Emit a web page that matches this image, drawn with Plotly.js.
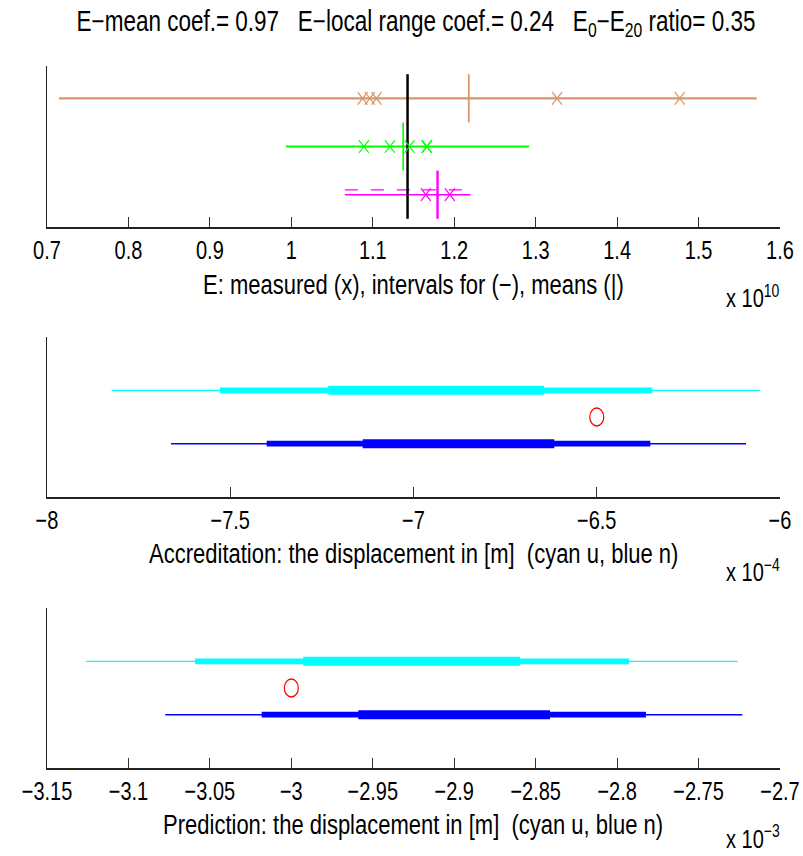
<!DOCTYPE html>
<html>
<head>
<meta charset="utf-8">
<script src="https://cdn.plot.ly/plotly-3.0.1.min.js"></script>
<style>
  html, body { margin: 0; padding: 0; background: #fff; }
  #frame { width: 803px; height: 856px; position: relative; }
  /* the figure is laid out at 803x672 and stretched vertically to fill 856 px */
  #chart { position: absolute; left: 0; top: 0; width: 803px; height: 672px;
           transform: scaleY(1.27381); transform-origin: 0 0; }
</style>
</head>
<body>
<div id="frame"><div id="chart"></div></div>
<script>
// ---------- E estimates (values in units of 1e10) ----------
const eRows      = [3, 2, 1];                       // brown, green, magenta rows
const eColors    = ['#d9966b', '#00ff00', '#ff00ff'];
const eIntLo     = [0.7147, 0.9933, 1.0657];        // interval lower ends
const eIntHi     = [1.5714, 1.2919, 1.2200];        // interval upper ends
const eMeasured1 = [1.0875, 1.0964, 1.1046, 1.3263, 1.4769];
const eMeasured2 = [1.0891, 1.1210, 1.1451, 1.1660, 1.1667];
const eMeasured3 = [1.1651, 1.1946];
const eMeans     = [1.2179, 1.1373, 1.1795];
const eDashLo    = 1.0657, eDashHi = 1.2142;        // second magenta interval (dashed)
const eReference = 1.1427;                          // black reference line
const eTickVals  = [0.7, 0.8, 0.9, 1.0, 1.1, 1.2, 1.3, 1.4, 1.5, 1.6];
const eTickText  = ['0.7', '0.8', '0.9', '1', '1.1', '1.2', '1.3', '1.4', '1.5', '1.6'];

// ---------- Accreditation displacement (units of 1e-4 m) ----------
const accCyanLo = [-7.8235, -7.5280, -7.2325];      // widest, middle, narrowest
const accCyanHi = [-6.0546, -6.3484, -6.6439];
const accBlueLo = [-7.6617, -7.4006, -7.1386];
const accBlueHi = [-6.0928, -6.3538, -6.6159];
const accMeasured = -6.5;
const accTickVals = [-8, -7.5, -7, -6.5, -6];
const accTickText = ['\u22128', '\u22127.5', '\u22127', '\u22126.5', '\u22126'];

// ---------- Prediction displacement (units of 1e-3 m) ----------
const preCyanLo = [-3.1261, -3.0591, -2.9927];
const preCyanHi = [-2.7260, -2.7927, -2.8596];
const preBlueLo = [-3.0774, -3.0182, -2.9589];
const preBlueHi = [-2.7231, -2.7823, -2.8412];
const preMeasured = -3.0;
const preTickVals = [-3.15, -3.1, -3.05, -3, -2.95, -2.9, -2.85, -2.8, -2.75, -2.7];
const preTickText = ['\u22123.15', '\u22123.1', '\u22123.05', '\u22123', '\u22122.95',
                     '\u22122.9', '\u22122.85', '\u22122.8', '\u22122.75', '\u22122.7'];

const bandWidths = [1.0, 4.6, 7.1];                 // thin, medium, thick

const FONT = 'Liberation Sans, Arial, Helvetica, sans-serif';
const traces = [];

function hLine(xa, ya, x0, x1, y, color, width, dash) {
  traces.push({
    type: 'scatter', mode: 'lines', xaxis: xa, yaxis: ya,
    x: [x0, x1], y: [y, y], hoverinfo: 'skip', showlegend: false,
    line: { color: color, width: width, dash: dash || 'solid' }
  });
}
function vLine(xa, ya, x, y0, y1, color, width) {
  traces.push({
    type: 'scatter', mode: 'lines', xaxis: xa, yaxis: ya,
    x: [x, x], y: [y0, y1], hoverinfo: 'skip', showlegend: false,
    line: { color: color, width: width }
  });
}
function crosses(xa, ya, xs, y, color) {
  traces.push({
    type: 'scatter', mode: 'markers', xaxis: xa, yaxis: ya,
    x: xs, y: xs.map(() => y), showlegend: false,
    marker: { symbol: 'x-thin-open', size: 10, color: color, line: { color: color, width: 1.1 } }
  });
}

// --- panel 1: E intervals, measured values and means ---
const eWidths = [1.8, 1.5, 1.2];
eRows.forEach((r, i) => hLine('x', 'y', eIntLo[i], eIntHi[i], r, eColors[i], eWidths[i]));
hLine('x', 'y', eDashLo, eDashHi, eRows[2] + 0.1, eColors[2], 1.0, '13px,13px');
vLine('x', 'y', eReference, 0.5, 3.5, '#000000', 2.5);
crosses('x', 'y', eMeasured1, eRows[0], eColors[0]);
crosses('x', 'y', eMeasured2, eRows[1], eColors[1]);
crosses('x', 'y', eMeasured3, eRows[2], eColors[2]);
const meanWidths = [1.8, 1.6, 2.4];
eRows.forEach((r, i) => vLine('x', 'y', eMeans[i], r - 0.5, r + 0.5, eColors[i], meanWidths[i]));

// --- panels 2 and 3: nested interval bands with the measured value ---
function bands(xa, ya, lo, hi, y, color, thinW) {
  lo.forEach((v, k) => hLine(xa, ya, v, hi[k], y, color, k === 0 ? thinW : bandWidths[k]));
}
bands('x2', 'y2', accCyanLo, accCyanHi, 2, '#00ffff', 1.0);
bands('x2', 'y2', accBlueLo, accBlueHi, 1, '#0000ff', 1.2);
bands('x3', 'y3', preCyanLo, preCyanHi, 2, '#00ffff', 1.0);
bands('x3', 'y3', preBlueLo, preBlueHi, 1, '#0000ff', 1.2);

[['x2', 'y2', accMeasured], ['x3', 'y3', preMeasured]].forEach(([xa, ya, v]) => {
  traces.push({
    type: 'scatter', mode: 'markers', xaxis: xa, yaxis: ya, x: [v], y: [1.5], showlegend: false,
    marker: { symbol: 'circle-open', size: 14, color: '#ff0000', line: { color: '#ff0000', width: 1.2 } }
  });
});

// ---------- axes ----------
const xDom = [47 / 803, 780 / 803];
function xAxis(range, vals, text, anchor) {
  return {
    domain: xDom, range: range, anchor: anchor,
    showline: true, linecolor: '#222', linewidth: 1.2, mirror: false,
    showgrid: false, zeroline: false,
    ticks: 'inside', ticklen: 8, tickwidth: 1, tickcolor: '#333',
    tickmode: 'array', tickvals: vals, ticktext: text,
    tickfont: { family: FONT, size: 20, color: '#000' }
  };
}
function yAxis(range, dom, anchor) {
  return {
    domain: dom, range: range, anchor: anchor,
    showline: true, linecolor: '#222', linewidth: 1.2,
    showgrid: false, zeroline: false, ticks: '', showticklabels: false
  };
}

const layout = {
  width: 803, height: 672,
  margin: { l: 0, r: 0, t: 0, b: 0 },
  paper_bgcolor: '#fff', plot_bgcolor: '#fff',
  showlegend: false,
  font: { family: FONT, color: '#000' },
  title: {
    text: 'E\u2212mean coef.= 0.97 \u00a0 E\u2212local range coef.= 0.24 \u00a0 E<sub>0</sub>\u2212E<sub>20</sub> ratio= 0.35',
    x: 416 / 803, xanchor: 'center', y: 1 - 21 / 856, yanchor: 'middle',
    font: { family: FONT, size: 22.5, color: '#000' }
  },
  xaxis:  xAxis([0.7, 1.6], eTickVals, eTickText, 'y'),
  yaxis:  yAxis([0.33, 3.67], [1 - 227 / 856, 1 - 66 / 856], 'x'),
  xaxis2: xAxis([-8, -6], accTickVals, accTickText, 'y2'),
  yaxis2: yAxis([0, 3], [1 - 497 / 856, 1 - 337 / 856], 'x2'),
  xaxis3: xAxis([-3.15, -2.7], preTickVals, preTickText, 'y3'),
  yaxis3: yAxis([0, 3], [1 - 768 / 856, 1 - 608 / 856], 'x3'),
  annotations: [
    { text: 'E: measured (x), intervals for (\u2212), means (|)', x: 413.5 / 803, y: 1 - 285 / 856 },
    { text: 'Accreditation: the displacement in [m] \u00a0(cyan u, blue n)', x: 413.5 / 803, y: 1 - 553 / 856 },
    { text: 'Prediction: the displacement in [m] \u00a0(cyan u, blue n)', x: 413.5 / 803, y: 1 - 825 / 856 },
    { text: 'x 10<sup>10</sup>', x: 782 / 803, xanchor: 'right', y: 1 - 296 / 856, size: 20 },
    { text: 'x 10<sup>\u22124</sup>', x: 782 / 803, xanchor: 'right', y: 1 - 570 / 856, size: 20 },
    { text: 'x 10<sup>\u22123</sup>', x: 782 / 803, xanchor: 'right', y: 1 - 836 / 856, size: 20 }
  ].map(a => ({
    text: a.text, xref: 'paper', yref: 'paper', x: a.x, y: a.y,
    xanchor: a.xanchor || 'center', yanchor: 'middle', showarrow: false,
    font: { family: FONT, size: a.size || 22, color: '#000' }
  }))
};

Plotly.newPlot('chart', traces, layout, { displayModeBar: false, staticPlot: true });
</script>
</body>
</html>
